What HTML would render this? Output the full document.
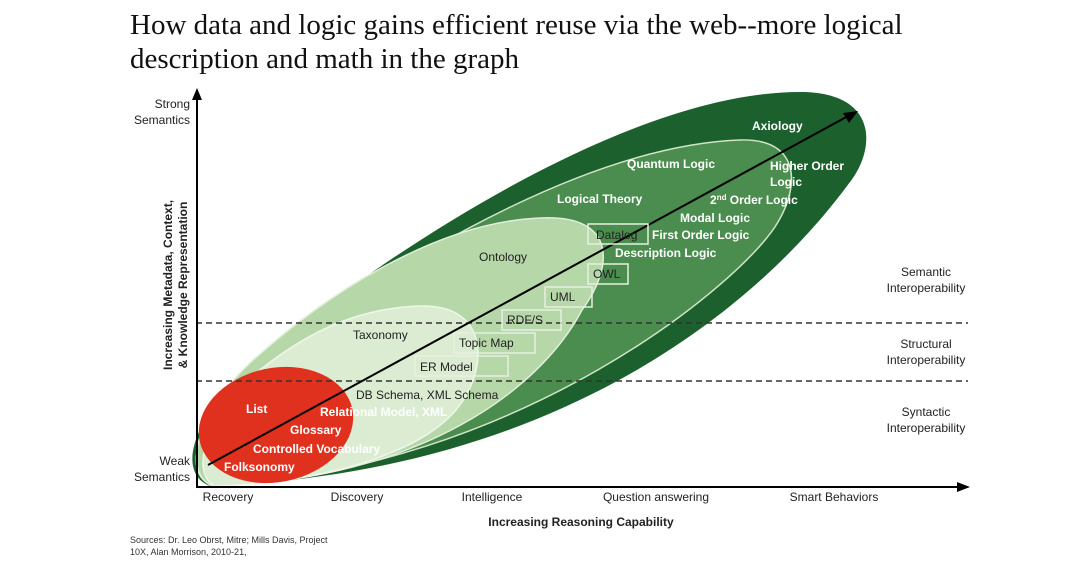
<!DOCTYPE html>
<html><head><meta charset="utf-8"><style>
body{margin:0;background:#fff;width:1082px;height:558px;overflow:hidden}
svg text{font-family:"Liberation Sans",Arial,sans-serif}
</style></head><body>
<svg width="1082" height="558" viewBox="0 0 1082 558" xmlns="http://www.w3.org/2000/svg">
<text x="130" y="34" style="font-family:'Liberation Serif',serif" font-size="29" fill="#111">How data and logic gains efficient reuse via the web--more logical</text>
<text x="130" y="68" style="font-family:'Liberation Serif',serif" font-size="29" fill="#111">description and math in the graph</text>

<path d="M210,486 C 170,470 200,400 280,340 C 420,230 640,92 800,92 C 880,92 875,150 850,182 C 820,222 640,470 210,486 Z" fill="#1c612d"/>
<path d="M212,486 C 175,468 205,405 285,345 C 420,245 600,145 740,140 C 800,138 800,185 778,222 C 745,280 520,470 212,486 Z" fill="#4b8c4f" stroke="#cfe5c6" stroke-width="1.5"/>
<path d="M212,486 C 180,470 200,410 250,363 C 330,290 440,222 540,218 C 620,214 612,270 582,310 C 540,390 420,480 212,486 Z" fill="#b6d7a8" stroke="#e0eed8" stroke-width="1.5"/>
<path d="M214,486 C 190,470 205,420 260,370 C 310,330 360,308 420,306 C 492,304 488,372 456,410 C 420,452 330,482 214,486 Z" fill="#dcecd3" stroke="#eef6ea" stroke-width="1.5"/>
<ellipse cx="276" cy="425" rx="78" ry="57" transform="rotate(-12 276 425)" fill="#e0301e"/>

<line x1="196" y1="323" x2="968" y2="323" stroke="#333" stroke-width="1.5" stroke-dasharray="6,4"/>
<line x1="196" y1="381" x2="968" y2="381" stroke="#333" stroke-width="1.5" stroke-dasharray="6,4"/>

<line x1="208" y1="465" x2="850" y2="115" stroke="#000" stroke-width="2"/>
<polygon points="858,111 843,113 849,123" fill="#000"/>

<line x1="197" y1="97" x2="197" y2="487" stroke="#000" stroke-width="2"/>
<polygon points="197,88 192,100 202,100" fill="#000"/>
<line x1="196" y1="487" x2="960" y2="487" stroke="#000" stroke-width="2"/>
<polygon points="970,487 957,482 957,492" fill="#000"/>

<g font-size="12" fill="#222" text-anchor="end">
<text x="190" y="108">Strong</text><text x="190" y="124">Semantics</text>
<text x="190" y="465">Weak</text><text x="190" y="481">Semantics</text>
</g>
<g font-size="12" fill="#222" font-weight="bold" text-anchor="middle">
<text transform="translate(172 285) rotate(-90)">Increasing Metadata, Context,</text>
<text transform="translate(187 285) rotate(-90)">&amp; Knowledge Representation</text>
</g>
<g font-size="12" fill="#222" text-anchor="middle">
<text x="228" y="501">Recovery</text><text x="357" y="501">Discovery</text>
<text x="492" y="501">Intelligence</text><text x="656" y="501">Question answering</text>
<text x="834" y="501">Smart Behaviors</text>
</g>
<text x="581" y="526" font-size="12" font-weight="bold" fill="#222" text-anchor="middle">Increasing Reasoning Capability</text>
<g font-size="12" fill="#222" text-anchor="middle">
<text x="926" y="276">Semantic</text><text x="926" y="292">Interoperability</text>
<text x="926" y="348">Structural</text><text x="926" y="364">Interoperability</text>
<text x="926" y="416">Syntactic</text><text x="926" y="432">Interoperability</text>
</g>
<g font-size="9" fill="#333"><text x="130" y="543">Sources: Dr. Leo Obrst, Mitre; Mills Davis, Project</text><text x="130" y="555">10X, Alan Morrison, 2010-21,</text></g>

<g font-size="12" font-weight="bold" fill="#fff">
<text x="752" y="130">Axiology</text>
<text x="627" y="168">Quantum Logic</text>
<text x="770" y="170">Higher Order</text><text x="770" y="186">Logic</text>
<text x="557" y="203">Logical Theory</text>
<text x="710" y="204">2<tspan font-size="8" dy="-4">nd</tspan><tspan dy="4"> Order Logic</tspan></text>
<text x="680" y="222">Modal Logic</text>
<text x="652" y="239">First Order Logic</text>
<text x="615" y="257">Description Logic</text>
<text x="246" y="413">List</text>
<text x="290" y="434">Glossary</text>
<text x="253" y="453">Controlled Vocabulary</text>
<text x="224" y="471">Folksonomy</text>
<text x="320" y="416">Relational Model, XML</text>
</g>
<g font-size="12" fill="#222">
<text x="479" y="261">Ontology</text>
<text x="353" y="339">Taxonomy</text>
<text x="356" y="399">DB Schema, XML Schema</text>
</g>
<g fill="none" stroke="#e6f1e0" stroke-width="1.5">
<rect x="588" y="224" width="60" height="20"/>
<rect x="588" y="264" width="40" height="20"/>
<rect x="545" y="287" width="47" height="20"/>
<rect x="502" y="310" width="59" height="20"/>
<rect x="454" y="333" width="81" height="20"/>
<rect x="415" y="356" width="93" height="20"/>
</g>
<g font-size="12" fill="#222">
<text x="596" y="239">Datalog</text>
<text x="593" y="278">OWL</text>
<text x="550" y="301">UML</text>
<text x="507" y="324">RDF/S</text>
<text x="459" y="347">Topic Map</text>
<text x="420" y="371">ER Model</text>
</g>
</svg>
</body></html>
